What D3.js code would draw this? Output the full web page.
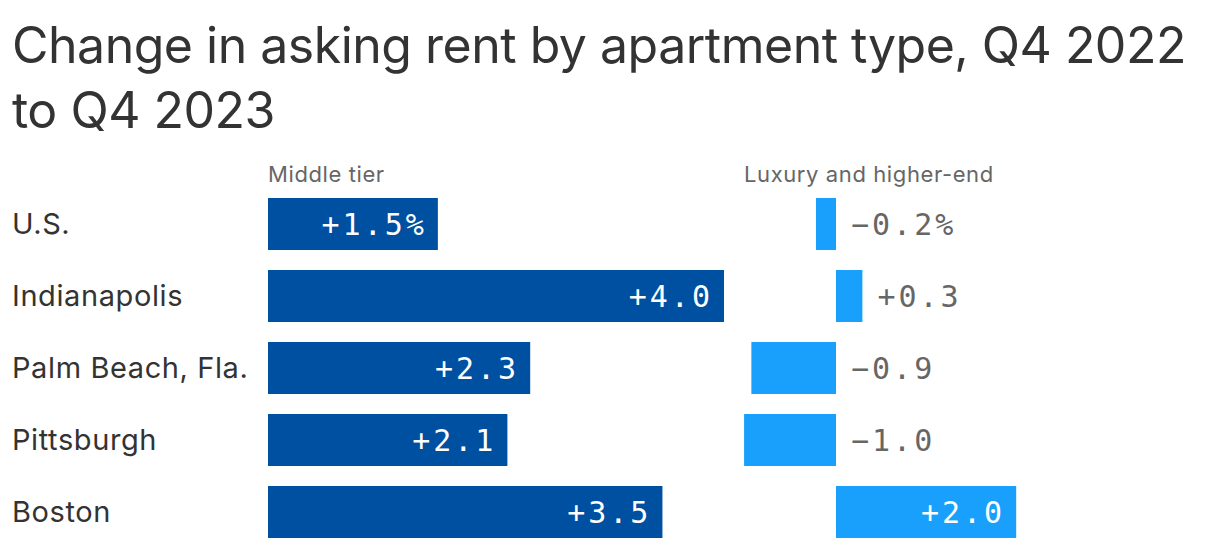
<!DOCTYPE html>
<html>
<head>
<meta charset="utf-8">
<script src="https://cdn.jsdelivr.net/npm/d3@7"></script>
<style>
  body { margin: 0; background: #fff; }
  svg { display: block; }
</style>
</head>
<body>
<div id="chart"></div>
<script>
// data (percent change; labels round to 1 decimal)
const cities = ["U.S.", "Indianapolis", "Palm Beach, Fla.", "Pittsburgh", "Boston"];
const middleTier = [1.49, 4.0, 2.3, 2.1, 3.46];
const luxury = [-0.22, 0.29, -0.93, -1.01, 1.98];
const panelTitles = ["Middle tier", "Luxury and higher-end"];

const width = 1220, height = 548;
const sans = "Inter, 'Noto Sans', sans-serif";
const mono = "'DejaVu Sans Mono', monospace";
const ls = 3; // letter spacing of the value labels

const svg = d3.select("#chart").append("svg")
    .attr("width", width)
    .attr("height", height);

// title
const title = svg.append("text")
    .attr("x", 12)
    .attr("font-family", sans)
    .attr("font-size", 50)
    .attr("fill", "#333")
    .attr("letter-spacing", -0.5);
title.append("tspan").attr("x", 12).attr("y", 63).text("Change in asking rent by apartment type, Q4 2022");
title.append("tspan").attr("x", 12).attr("y", 128).text("to Q4 2023");

const y = d3.scaleBand()
    .domain(cities)
    .range([198, 538])
    .paddingInner(20 / 72)
    .paddingOuter(0);

// middle tier scale
const xMid = d3.scaleLinear().domain([0, 4.0]).range([268, 724]);
// luxury scale (zero line at 836)
const xLux = d3.scaleLinear().domain([0, 1]).range([836, 927]);

// row labels
svg.selectAll(".city")
    .data(cities)
    .join("text")
    .attr("class", "city")
    .attr("x", 12)
    .attr("y", d => y(d) + y.bandwidth() / 2 + 10)
    .attr("font-family", sans)
    .attr("font-size", 29)
    .attr("fill", "#333")
    .attr("letter-spacing", 0.6)
    .text(d => d);

// panel headers
svg.selectAll(".panel")
    .data(panelTitles)
    .join("text")
    .attr("class", "panel")
    .attr("x", (d, i) => i === 0 ? xMid(0) : 744)
    .attr("y", 182)
    .attr("font-family", sans)
    .attr("font-size", 22)
    .attr("fill", "#666")
    .attr("letter-spacing", 0.6)
    .text(d => d);

function fmt(v, i) {
    const s = (v >= 0 ? "+" : "\u2212") + Math.abs(v).toFixed(1);
    return i === 0 ? s + "%" : s;
}

// middle tier bars
svg.selectAll(".mid")
    .data(middleTier)
    .join("rect")
    .attr("class", "mid")
    .attr("x", xMid(0))
    .attr("y", (d, i) => y(cities[i]))
    .attr("width", d => xMid(d) - xMid(0))
    .attr("height", y.bandwidth())
    .attr("fill", "#0050a2");

svg.selectAll(".midLabel")
    .data(middleTier)
    .join("text")
    .attr("class", "midLabel")
    .attr("x", d => xMid(d) - 14 + ls)
    .attr("y", (d, i) => y(cities[i]) + y.bandwidth() / 2 + 11)
    .attr("text-anchor", "end")
    .attr("font-family", mono)
    .attr("font-size", 30)
    .attr("letter-spacing", ls)
    .attr("fill", "#fff")
    .text((d, i) => fmt(d, i));

// luxury bars
svg.selectAll(".lux")
    .data(luxury)
    .join("rect")
    .attr("class", "lux")
    .attr("x", d => xLux(Math.min(0, d)))
    .attr("y", (d, i) => y(cities[i]))
    .attr("width", d => Math.abs(xLux(d) - xLux(0)))
    .attr("height", y.bandwidth())
    .attr("fill", "#18a0fc");

svg.selectAll(".luxLabel")
    .data(luxury)
    .join("text")
    .attr("class", "luxLabel")
    .attr("x", d => d >= 1 ? xLux(d) - 14 + ls : xLux(Math.max(0, d)) + 15)
    .attr("y", (d, i) => y(cities[i]) + y.bandwidth() / 2 + 11)
    .attr("text-anchor", d => d >= 1 ? "end" : "start")
    .attr("font-family", mono)
    .attr("font-size", 30)
    .attr("letter-spacing", ls)
    .attr("fill", d => d >= 1 ? "#fff" : "#666")
    .text((d, i) => fmt(d, i));
</script>
</body>
</html>
